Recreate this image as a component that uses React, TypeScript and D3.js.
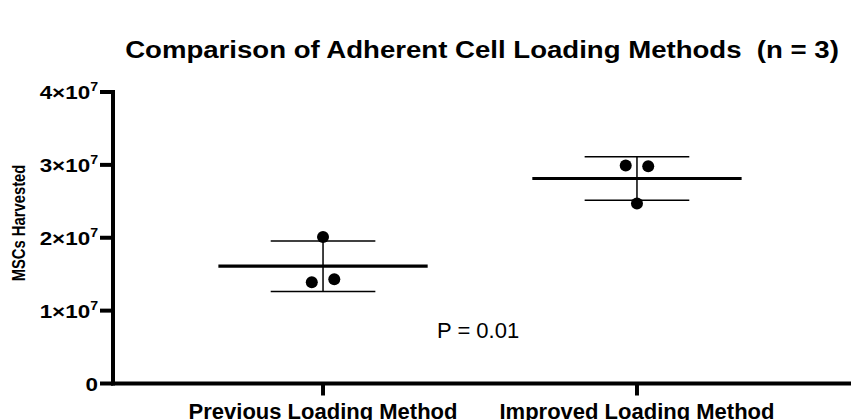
import React from "react";
import * as d3 from "d3";

const categories = ["Previous Loading Method", "Improved Loading Method"];
const previousValues = [2.01e7, 1.39e7, 1.43e7];
const improvedValues = [2.99e7, 2.98e7, 2.47e7];
const groupValues = [previousValues, improvedValues];
const yTickValues = [0, 1e7, 2e7, 3e7, 4e7];
const yDomain = [0, 4e7];
const titleText = "Comparison of Adherent Cell Loading Methods  (n = 3)";
const yAxisTitle = "MSCs Harvested";
const pValueText = "P = 0.01";

const W = 851;
const H = 420;
const FONT = "'Liberation Sans', Arial, Helvetica, sans-serif";

function swarmOffsets(values: number[], y: (v: number) => number, r: number, step: number) {
  const offsets = values.map(() => 0);
  const idx = values.map((_, i) => i).sort((a, b) => values[b] - values[a]);
  const clusters: number[][] = [];
  let cur = [idx[0]];
  for (let k = 1; k < idx.length; k++) {
    const prev = cur[cur.length - 1];
    if (Math.abs(y(values[idx[k]]) - y(values[prev])) < 2 * r + 2) cur.push(idx[k]);
    else {
      clusters.push(cur);
      cur = [idx[k]];
    }
  }
  clusters.push(cur);
  clusters.forEach((c) => {
    const s = c.slice().sort((a, b) => a - b);
    s.forEach((i, j) => {
      offsets[i] = (j - (s.length - 1) / 2) * step;
    });
  });
  return offsets;
}

export default function App() {
  const axisX = 113;
  const y = d3.scaleLinear().domain(yDomain).range([383.5, 92]);
  const x = d3.scalePoint<string>().domain(categories).range([113, 847]).padding(0.669);
  const step = x.step();
  const r = 6;

  return (
    <svg
      width={W}
      height={H}
      style={{ position: "absolute", left: 0, top: 0, background: "#fff" }}
      fontFamily={FONT}
    >
      {/* title */}
      <text
        transform={`translate(482,58) scale(1.14,1)`}
        textAnchor="middle"
        fontWeight="bold"
        fontSize={24.2}
        style={{ whiteSpace: "pre" }}
      >
        {titleText}
      </text>

      {/* y axis title */}
      <text
        transform={`translate(24.5,223) rotate(-90) scale(1,1.2)`}
        textAnchor="middle"
        fontWeight="bold"
        fontSize={14.8}
      >
        {yAxisTitle}
      </text>

      {/* y axis */}
      <line x1={axisX} x2={axisX} y1={y(yDomain[1]) - 2} y2={y(0) + 2} stroke="#000" strokeWidth={4} />
      {yTickValues.map((v) => {
        const exp = v === 0 ? 0 : Math.floor(Math.log10(v));
        const mant = v === 0 ? 0 : Math.round(v / Math.pow(10, exp));
        return (
          <g key={v}>
            <line x1={100} x2={axisX} y1={y(v)} y2={y(v)} stroke="#000" strokeWidth={4} />
            <text
              transform={`translate(98,${y(v) + 7}) scale(1.18,1)`}
              textAnchor="end"
              fontWeight="bold"
              fontSize={19}
            >
              {v === 0 ? (
                "0"
              ) : (
                <>
                  {`${mant}×10`}
                  <tspan dy={-8} fontSize={12}>
                    {exp}
                  </tspan>
                </>
              )}
            </text>
          </g>
        );
      })}

      {/* x axis */}
      <line x1={axisX - 2} x2={W} y1={y(0)} y2={y(0)} stroke="#000" strokeWidth={4} />
      {categories.map((c) => (
        <g key={c}>
          <line x1={x(c)} x2={x(c)} y1={y(0)} y2={y(0) + 12} stroke="#000" strokeWidth={4} />
          <text x={x(c)} y={418.5} textAnchor="middle" fontWeight="bold" fontSize={22}>
            {c}
          </text>
        </g>
      ))}

      {/* groups */}
      {categories.map((c, gi) => {
        const vals = groupValues[gi];
        const mean = d3.mean(vals) as number;
        const sd = d3.deviation(vals) as number;
        const cx = x(c) as number;
        const offs = swarmOffsets(vals, y, r, 22.5);
        return (
          <g key={c}>
            <line x1={cx} x2={cx} y1={y(mean + sd)} y2={y(mean - sd)} stroke="#000" strokeWidth={1.5} />
            <line x1={cx - step / 6} x2={cx + step / 6} y1={y(mean + sd)} y2={y(mean + sd)} stroke="#000" strokeWidth={1.5} />
            <line x1={cx - step / 6} x2={cx + step / 6} y1={y(mean - sd)} y2={y(mean - sd)} stroke="#000" strokeWidth={1.5} />
            <line x1={cx - step / 3} x2={cx + step / 3} y1={y(mean)} y2={y(mean)} stroke="#000" strokeWidth={3.2} />
            {vals.map((v, i) => (
              <circle key={i} cx={cx + offs[i]} cy={y(v)} r={r} fill="#000" />
            ))}
          </g>
        );
      })}

      {/* p value */}
      <text x={437} y={338} fontSize={22}>
        {pValueText}
      </text>
    </svg>
  );
}
